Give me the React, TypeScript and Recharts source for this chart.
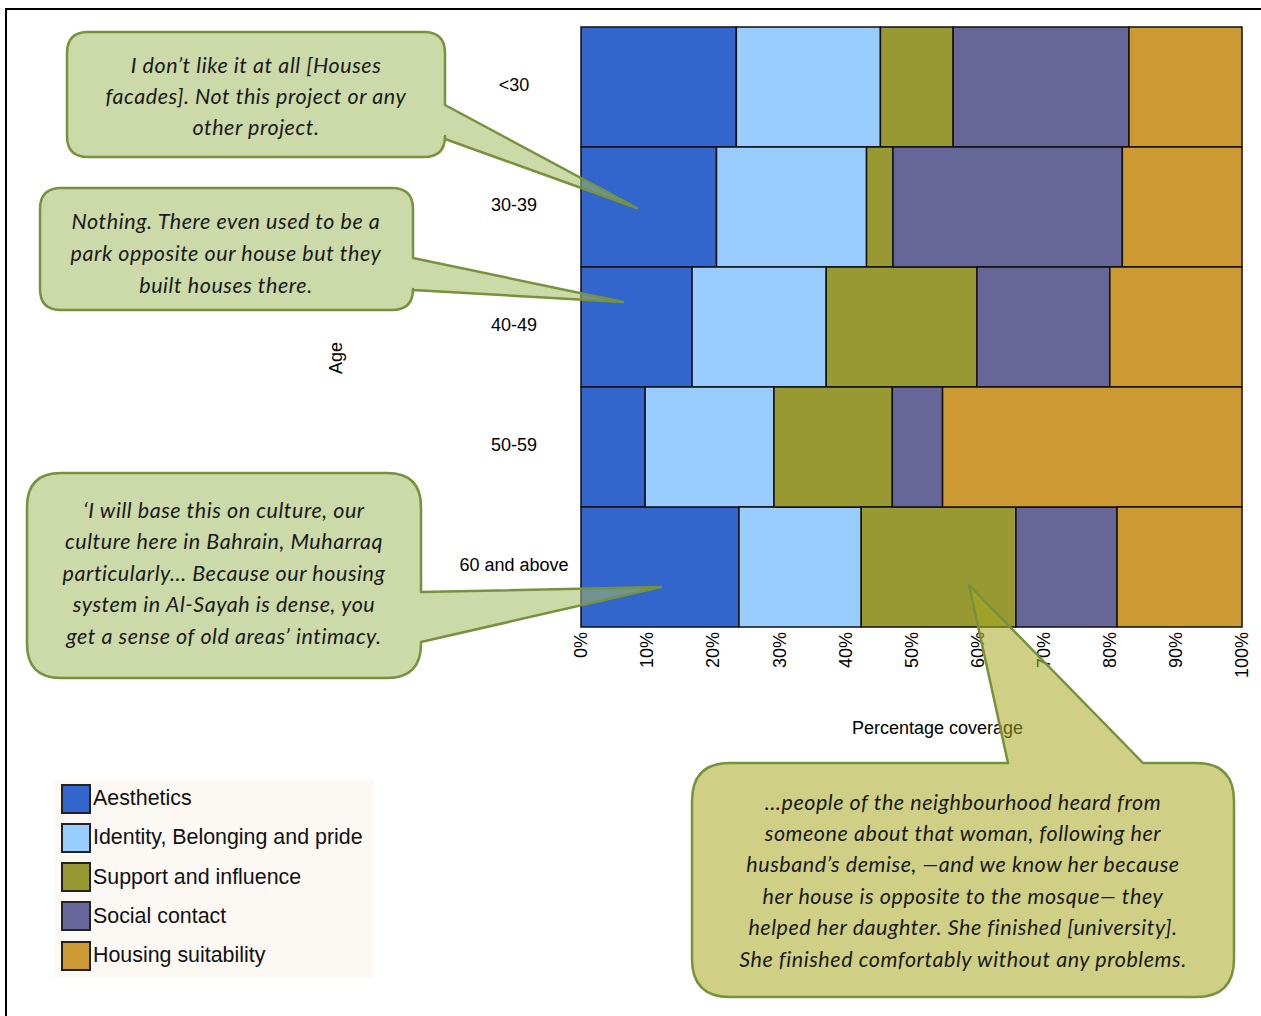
import React from 'react';
import { BarChart, Bar, XAxis, YAxis } from 'recharts';

const ageGroups = ['<30', '30-39', '40-49', '50-59', '60 and above'];
const aesthetics = [23.5, 20.5, 16.8, 9.7, 23.9];
const identity = [21.8, 22.7, 20.3, 19.5, 18.5];
const support = [11.0, 4.0, 22.8, 17.9, 23.4];
const social = [26.6, 34.7, 20.1, 7.6, 15.3];
const housing = [17.1, 18.1, 20.0, 45.3, 18.9];

const seriesKeys = ['aesthetics', 'identity', 'support', 'social', 'housing'];
const seriesNames = [
  'Aesthetics',
  'Identity, Belonging and pride',
  'Support and influence',
  'Social contact',
  'Housing suitability',
];
const seriesColors = ['#3366cc', '#99ccff', '#999933', '#666699', '#cc9933'];
const xTicks = [0, 10, 20, 30, 40, 50, 60, 70, 80, 90, 100];

const data = ageGroups.map((age, i) => ({
  age,
  aesthetics: aesthetics[i],
  identity: identity[i],
  support: support[i],
  social: social[i],
  housing: housing[i],
}));

const quote1 = ['I don\u2019t like it at all [Houses', 'facades]. Not this project or any', 'other project.'];
const quote2 = ['Nothing. There even used to be a', 'park opposite our house but they', 'built houses there.'];
const quote3 = [
  '\u2018I will base this on culture, our',
  'culture here in Bahrain, Muharraq',
  'particularly\u2026 Because our housing',
  'system in Al-Sayah is dense, you',
  'get a sense of old areas\u2019 intimacy.',
];
const quote4 = [
  '\u2026people of the neighbourhood heard from',
  'someone about that woman, following her',
  'husband\u2019s demise, \u2014and we know her because',
  'her house is opposite to the mosque\u2014 they',
  'helped her daughter. She finished [university].',
  'She finished comfortably without any problems.',
];

const AXIS_FONT = '"Liberation Sans", Arial, sans-serif';
const QUOTE_FONT = 'Lato, "Open Sans", sans-serif';

const XTick = (props: any) => {
  const { x, y, payload } = props;
  return (
    <text
      x={x}
      y={y}
      transform={`rotate(-90, ${x}, ${y})`}
      textAnchor="end"
      dy="0.35em"
      fontFamily={AXIS_FONT}
      fontSize={18}
      fill="#000"
    >
      {payload.value}%
    </text>
  );
};

const YTick = (props: any) => {
  const { x, y, payload } = props;
  return (
    <text x={x - 67} y={y - 2} dy="0.35em" textAnchor="middle" fontFamily={AXIS_FONT} fontSize={18} fill="#000">
      {payload.value}
    </text>
  );
};

// Callout path: rounded rect with a wedge on a given side
function calloutPath(
  x: number, y: number, w: number, h: number, r: number,
  side: 'right' | 'top', b1: number, b2: number, tx: number, ty: number
) {
  const x2 = x + w;
  const y2 = y + h;
  let d = `M ${x + r} ${y} `;
  if (side === 'top') {
    d += `L ${b1} ${y} L ${tx} ${ty} L ${b2} ${y} `;
  }
  d += `L ${x2 - r} ${y} Q ${x2} ${y} ${x2} ${y + r} `;
  if (side === 'right') {
    d += `L ${x2} ${b1} L ${tx} ${ty} L ${x2} ${b2} `;
  }
  d += `L ${x2} ${y2 - r} Q ${x2} ${y2} ${x2 - r} ${y2} `;
  d += `L ${x + r} ${y2} Q ${x} ${y2} ${x} ${y2 - r} `;
  d += `L ${x} ${y + r} Q ${x} ${y} ${x + r} ${y} Z`;
  return d;
}

const Callout = (p: {
  x: number; y: number; w: number; h: number; r: number;
  side: 'right' | 'top'; b1: number; b2: number; tx: number; ty: number;
  fill: string; lines: string[]; cx: number; firstY: number; lh: number;
}) => (
  <g>
    <path
      d={calloutPath(p.x, p.y, p.w, p.h, p.r, p.side, p.b1, p.b2, p.tx, p.ty)}
      fill={p.fill}
      fillOpacity={0.55}
      stroke="#76923c"
      strokeWidth={2.5}
      strokeLinejoin="round"
    />
    {p.lines.map((l, i) => (
      <text
        key={i}
        x={p.cx}
        y={p.firstY + i * p.lh}
        dy="0.35em"
        textAnchor="middle"
        fontFamily={QUOTE_FONT}
        fontStyle="italic"
        fontSize={21.5}
        letterSpacing={0.55}
        fill="#1a1a1a"
      >
        {l}
      </text>
    ))}
  </g>
);

export default function App() {
  return (
    <div style={{ position: 'absolute', left: 0, top: 0, width: 1261, height: 1016, overflow: 'hidden', background: '#fff' }}>
      <div style={{ position: 'absolute', left: 5, top: 8, width: 1400, height: 1200, borderLeft: '2px solid #000', borderTop: '2px solid #000' }} />
      <div style={{ position: 'absolute', left: 0, top: 0 }}>
        <BarChart
          width={1261}
          height={1016}
          data={data}
          layout="vertical"
          barCategoryGap={0}
          margin={{ top: 27, right: 19, bottom: 269, left: 331 }}
        >
          <XAxis
            type="number"
            domain={[0, 100]}
            ticks={xTicks}
            interval={0}
            axisLine={false}
            tickLine={false}
            tickSize={0}
            tickMargin={5}
            height={120}
            tick={<XTick />}
            label={(lp: any) => {
              const vb = lp.viewBox;
              return (
                <text x={vb.x + vb.width / 2 + 26} y={vb.y + 101} dy="0.35em" textAnchor="middle" fontFamily={AXIS_FONT} fontSize={18} fill="#000">
                  Percentage coverage
                </text>
              );
            }}
          />
          <YAxis
            type="category"
            dataKey="age"
            width={250}
            axisLine={false}
            tickLine={false}
            tickSize={0}
            tickMargin={0}
            tick={<YTick />}
            label={(lp: any) => {
              const vb = lp.viewBox;
              const cx = vb.x + 5;
              const cy = vb.y + vb.height / 2 + 31;
              return (
                <text x={cx} y={cy} dy="0.35em" textAnchor="middle" transform={`rotate(-90, ${cx}, ${cy})`} fontFamily={AXIS_FONT} fontSize={18} fill="#000">
                  Age
                </text>
              );
            }}
          />
          {seriesKeys.map((k, i) => (
            <Bar
              key={k}
              dataKey={k}
              name={seriesNames[i]}
              stackId="a"
              fill={seriesColors[i]}
              stroke="#111"
              strokeWidth={1.5}
              isAnimationActive={false}
            />
          ))}
        </BarChart>
      </div>

      <div
        style={{
          position: 'absolute',
          left: 55,
          top: 780,
          width: 318,
          height: 197,
          background: '#fcf8f4',
          fontFamily: AXIS_FONT,
          fontSize: 21.4,
          color: '#111',
        }}
      >
        {seriesNames.map((n, i) => (
          <div key={n} style={{ position: 'absolute', left: 6, top: 3 + i * 39.3, height: 31, display: 'flex', alignItems: 'center' }}>
            <div style={{ width: 26, height: 26, background: seriesColors[i], border: '2px solid #222', marginRight: 2 }} />
            <span style={{ whiteSpace: 'nowrap' }}>{n}</span>
          </div>
        ))}
      </div>

      <svg width={1261} height={1016} style={{ position: 'absolute', left: 0, top: 0, pointerEvents: 'none' }}>
        <Callout x={67} y={32} w={378} h={125} r={21} side="right" b1={105} b2={139} tx={637} ty={208}
          fill="#a2ba61" lines={quote1} cx={256} firstY={65} lh={31} />
        <Callout x={40} y={188} w={373} h={122} r={21} side="right" b1={258} b2={290} tx={623} ty={302}
          fill="#a2ba61" lines={quote2} cx={226} firstY={221} lh={32} />
        <Callout x={27} y={473} w={394} h={205} r={34} side="right" b1={592} b2={642} tx={661} ty={587}
          fill="#a2ba61" lines={quote3} cx={224} firstY={510} lh={31.5} />
        <Callout x={692} y={763} w={542} h={234} r={38} side="top" b1={1008} b2={1143} tx={969} ty={585}
          fill="#a8a821" lines={quote4} cx={963} firstY={802} lh={31.4} />
      </svg>
    </div>
  );
}
